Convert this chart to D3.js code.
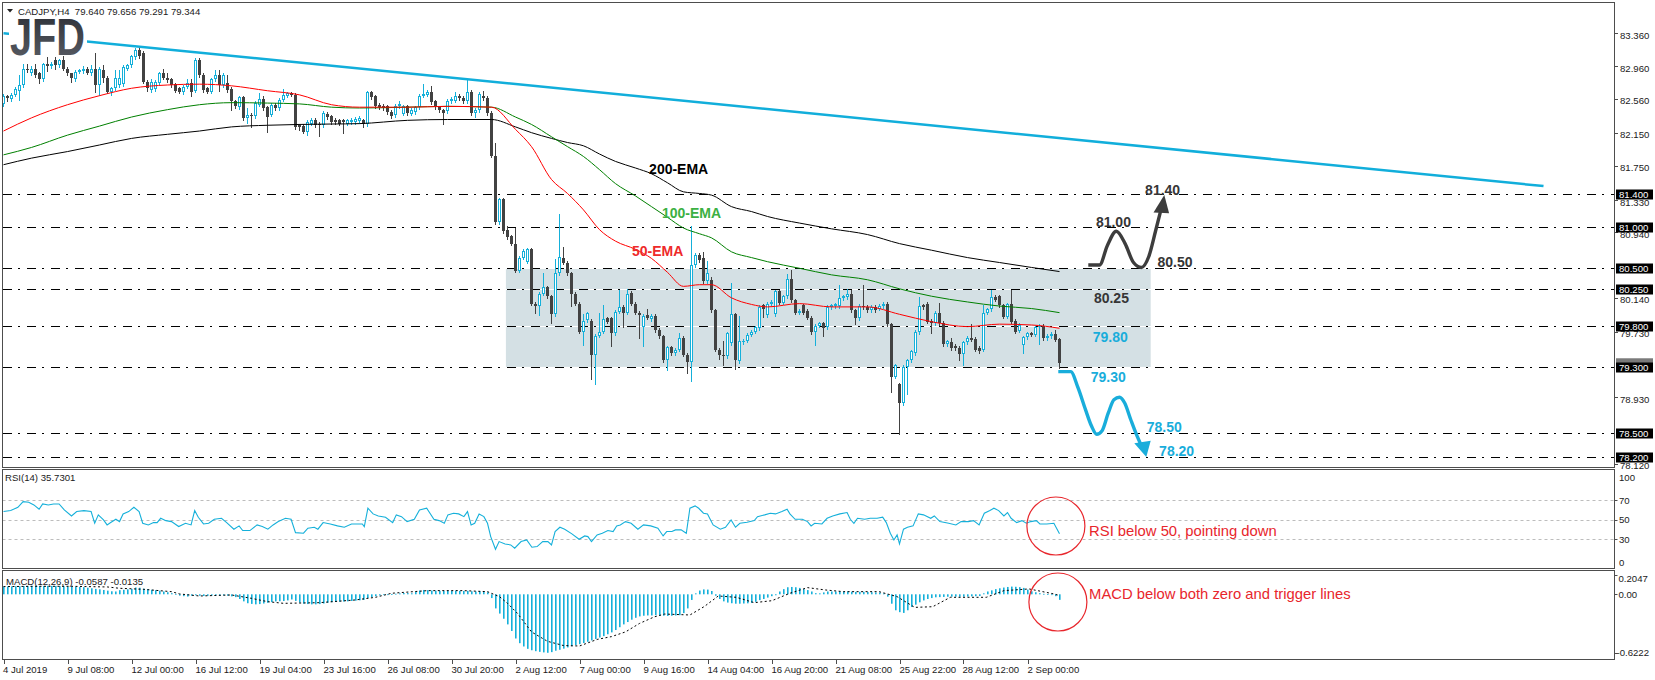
<!DOCTYPE html>
<html><head><meta charset="utf-8">
<script src="https://cdn.jsdelivr.net/npm/d3@7"></script>
<style>body{margin:0;background:#fff;}svg{display:block;}text{font-family:"Liberation Sans",Arial,sans-serif;}</style>
</head><body><svg id="c" width="1655" height="680"></svg>
<script>
// ---------------- DATA ----------------
const symbolTitle = "CADJPY,H4  79.640 79.656 79.291 79.344";
const opens = [82.50,82.60,82.56,82.61,82.66,82.73,82.93,82.87,82.93,82.87,
82.80,82.98,82.96,83.03,82.97,83.04,82.93,82.87,82.80,82.89,
82.90,82.93,82.87,82.93,82.73,82.91,82.82,82.65,82.69,82.73,
82.74,82.93,82.97,83.07,83.16,83.12,82.77,82.67,82.68,82.76,
82.88,82.82,82.80,82.74,82.69,82.64,82.71,82.76,82.66,83.04,
82.85,82.69,82.65,82.80,82.85,82.73,82.75,82.68,82.53,82.46,
82.58,82.33,82.37,82.35,82.49,82.56,82.46,82.37,82.49,82.45,
82.55,82.60,82.63,82.61,82.24,82.23,82.16,82.26,82.31,82.26,
82.24,82.38,82.35,82.31,82.30,82.30,82.26,82.28,82.28,82.29,
82.30,82.26,82.64,82.59,82.49,82.48,82.47,82.40,82.36,82.47,
82.38,82.47,82.38,82.40,82.46,82.60,82.61,82.65,82.53,82.46,
82.42,82.41,82.53,82.54,82.60,82.57,82.53,82.65,82.39,82.42,
82.60,82.57,82.39,81.87,81.06,81.34,80.96,80.89,80.80,80.47,
80.63,80.58,80.73,80.07,80.04,80.19,80.27,80.16,79.94,80.44,
80.63,80.57,80.44,80.19,80.07,79.73,79.87,79.86,79.45,79.68,
79.73,79.89,79.89,79.71,79.97,80.03,79.96,80.20,80.07,79.96,
79.78,79.93,79.88,79.92,79.75,79.67,79.38,79.54,79.47,79.51,
79.65,79.45,79.36,80.54,80.66,80.62,80.34,80.36,79.99,79.51,
79.45,79.43,79.59,79.94,79.37,79.60,79.62,79.69,79.73,79.77,
80.05,79.93,80.07,79.94,80.22,80.08,80.16,80.37,80.11,79.96,
80.05,79.98,79.90,79.72,79.80,79.83,79.78,80.03,80.04,80.04,
80.14,80.15,80.19,79.99,79.89,80.04,80.03,79.99,80.03,80.01,
80.04,80.07,79.82,79.18,79.09,78.86,79.30,79.38,79.47,79.72,
80.05,80.07,79.86,79.83,79.96,79.84,79.58,79.60,79.56,79.53,
79.46,79.60,79.65,79.64,79.53,79.51,79.96,80.00,80.15,80.16,
80.05,79.91,80.06,79.86,79.74,79.57,79.66,79.71,79.69,79.78,
79.80,79.65,79.67,79.70,79.640];
const highs = [82.62,82.61,82.63,82.70,82.85,82.99,82.99,82.96,82.98,82.89,
83.00,83.07,83.01,83.07,83.05,83.08,82.95,82.88,82.91,82.93,
82.96,82.95,82.97,83.12,82.95,82.97,82.84,82.71,82.91,82.91,
82.97,82.99,83.10,83.18,83.20,83.14,82.79,82.80,82.79,82.89,
82.93,82.87,82.82,82.76,82.71,82.73,82.80,82.80,83.06,83.06,
82.87,82.71,82.82,82.91,82.91,82.87,82.85,82.70,82.55,82.60,
82.60,82.45,82.39,82.53,82.63,82.60,82.48,82.51,82.51,82.57,
82.68,82.65,82.65,82.63,82.26,82.25,82.30,82.33,82.33,82.28,
82.41,82.40,82.37,82.33,82.32,82.32,82.32,82.33,82.34,82.35,
82.32,82.66,82.66,82.61,82.51,82.50,82.49,82.42,82.50,82.53,
82.49,82.49,82.45,82.48,82.62,82.74,82.67,82.72,82.55,82.48,
82.44,82.56,82.58,82.65,82.62,82.59,82.79,82.67,82.45,82.64,
82.66,82.59,82.41,82.03,81.36,81.36,81.01,80.91,80.99,80.65,
80.73,80.75,80.75,80.09,80.21,80.44,80.29,80.18,80.61,81.16,
80.76,80.59,80.46,80.21,80.09,79.94,79.97,79.88,79.70,79.96,
80.05,79.91,79.91,79.99,80.23,80.05,80.25,80.22,80.09,79.98,
79.94,80.00,79.94,79.94,79.77,79.69,79.56,79.56,79.53,79.71,
79.67,79.47,81.01,80.68,80.69,80.70,80.59,80.39,80.01,79.53,
79.61,79.73,80.32,79.96,79.92,79.64,79.71,79.75,79.80,80.05,
80.07,80.09,80.11,80.24,80.24,80.18,80.43,80.48,80.13,80.00,
80.07,80.00,79.92,79.82,79.85,79.85,80.05,80.07,80.08,80.30,
80.18,80.25,80.24,80.01,80.06,80.30,80.05,80.05,80.05,80.06,
80.09,80.09,79.84,79.34,79.11,79.32,79.40,79.51,79.75,80.15,
80.07,80.09,79.88,79.98,80.08,79.86,79.63,79.65,79.58,79.55,
79.62,79.67,79.82,79.66,79.55,80.05,80.02,80.23,80.17,80.18,
80.07,80.08,80.23,79.88,79.83,79.68,79.73,79.73,79.80,79.82,
79.82,79.70,79.72,79.75,79.656];
const lows = [82.47,82.53,82.54,82.60,82.55,82.71,82.89,82.85,82.83,82.76,
82.78,82.90,82.94,82.93,82.95,82.91,82.85,82.77,82.78,82.87,
82.88,82.86,82.85,82.65,82.61,82.77,82.63,82.61,82.67,82.71,
82.72,82.91,82.95,83.05,83.06,82.75,82.66,82.65,82.66,82.74,
82.80,82.77,82.71,82.64,82.63,82.62,82.69,82.60,82.64,82.83,
82.65,82.63,82.63,82.78,82.66,82.71,82.65,82.42,82.45,82.44,
82.31,82.27,82.22,82.33,82.47,82.43,82.16,82.35,82.43,82.43,
82.53,82.58,82.59,82.20,82.18,82.14,82.12,82.24,82.22,82.11,
82.22,82.32,82.26,82.26,82.24,82.14,82.24,82.26,82.26,82.27,
82.22,82.23,82.56,82.45,82.44,82.43,82.38,82.33,82.34,82.45,
82.36,82.37,82.36,82.38,82.44,82.58,82.59,82.50,82.44,82.40,
82.26,82.39,82.51,82.52,82.55,82.51,82.51,82.37,82.34,82.40,
82.55,82.37,81.85,81.04,81.04,80.93,80.86,80.78,80.45,80.45,
80.61,80.56,80.05,79.95,79.93,80.17,80.14,79.83,79.92,80.42,
80.55,80.42,80.04,80.05,79.71,79.57,79.85,79.15,79.09,79.66,
79.71,79.83,79.55,79.69,79.95,79.79,79.94,80.05,79.94,79.65,
79.55,79.88,79.86,79.73,79.65,79.36,79.26,79.45,79.45,79.49,
79.43,79.22,79.13,80.52,80.58,80.32,80.32,79.97,79.49,79.40,
79.32,79.41,79.57,79.28,79.35,79.58,79.60,79.67,79.71,79.75,
79.91,79.91,80.05,79.92,80.06,80.06,80.14,80.09,79.94,79.94,
79.94,79.88,79.70,79.57,79.78,79.68,79.76,80.01,80.02,80.02,
80.12,80.13,79.97,79.82,79.87,80.01,79.97,79.97,79.97,79.99,
80.02,79.80,78.99,79.16,78.48,78.84,78.97,79.36,79.45,79.70,
80.01,79.83,79.71,79.81,79.81,79.56,79.56,79.51,79.51,79.38,
79.32,79.58,79.61,79.49,79.47,79.49,79.94,79.98,80.10,80.03,
79.89,79.89,79.83,79.71,79.72,79.47,79.64,79.67,79.67,79.58,
79.63,79.63,79.65,79.61,79.291];
const closes = [82.60,82.57,82.61,82.68,82.73,82.93,82.91,82.93,82.85,82.80,
82.98,82.96,82.99,82.97,83.03,82.93,82.87,82.81,82.89,82.91,
82.93,82.88,82.93,82.73,82.93,82.82,82.65,82.69,82.82,82.82,
82.95,82.97,83.08,83.16,83.08,82.77,82.69,82.77,82.77,82.87,
82.82,82.79,82.73,82.66,82.65,82.71,82.76,82.65,83.04,82.85,
82.67,82.65,82.80,82.85,82.73,82.85,82.67,82.53,82.47,82.58,
82.33,82.37,82.36,82.51,82.56,82.45,82.34,82.49,82.45,82.55,
82.61,82.63,82.61,82.22,82.22,82.16,82.28,82.31,82.24,82.24,
82.39,82.34,82.28,82.28,82.26,82.28,82.30,82.31,82.32,82.33,
82.26,82.64,82.58,82.47,82.46,82.45,82.40,82.35,82.47,82.50,
82.47,82.39,82.43,82.46,82.60,82.62,82.65,82.52,82.46,82.42,
82.39,82.54,82.56,82.60,82.57,82.53,82.65,82.39,82.43,82.62,
82.57,82.39,81.87,81.06,81.34,80.95,80.88,80.80,80.47,80.63,
80.71,80.73,80.07,80.04,80.19,80.27,80.16,79.94,80.44,80.64,
80.57,80.44,80.19,80.07,79.73,79.86,79.95,79.45,79.68,79.73,
79.88,79.85,79.71,79.97,80.03,79.96,80.19,80.07,79.96,79.93,
79.92,79.90,79.92,79.75,79.67,79.38,79.54,79.47,79.51,79.65,
79.45,79.36,80.54,80.66,80.60,80.34,80.44,79.99,79.51,79.45,
79.43,79.71,79.94,79.38,79.61,79.62,79.69,79.73,79.78,80.03,
80.01,80.07,80.09,80.22,80.08,80.16,80.37,80.11,79.96,79.98,
79.96,79.90,79.72,79.80,79.83,79.77,80.03,80.05,80.06,80.14,
80.16,80.19,79.99,79.89,80.04,80.03,79.99,80.03,79.99,80.04,
80.07,79.82,79.18,79.32,78.86,79.30,79.38,79.49,79.73,80.04,
80.03,79.85,79.83,79.96,79.83,79.58,79.61,79.53,79.53,79.46,
79.60,79.65,79.63,79.51,79.49,79.96,80.00,80.15,80.12,80.05,
79.91,80.06,79.85,79.73,79.81,79.66,79.71,79.69,79.78,79.80,
79.65,79.68,79.70,79.63,79.344];

const emaIdx = [0,7,16,24,32,41,49,57,66,74,82,89,101,111,122,128,132,137,141,145,149,153,158,162,166,170,174,177,182,187,191,199,207,216,224,232,241,249,257,264];
const ema200 = [81.76,81.84,81.92,82.00,82.08,82.13,82.17,82.22,82.24,82.25,82.255,82.26,82.30,82.31,82.31,82.22,82.15,82.08,82.03,81.99,81.89,81.80,81.72,81.65,81.54,81.43,81.41,81.39,81.25,81.19,81.13,81.05,80.98,80.91,80.80,80.72,80.63,80.57,80.51,80.46];
const ema100 = [81.88,81.97,82.12,82.23,82.34,82.43,82.49,82.515,82.51,82.50,82.46,82.45,82.46,82.47,82.46,82.34,82.25,82.10,81.98,81.86,81.70,81.53,81.38,81.25,81.12,80.99,80.92,80.87,80.70,80.63,80.58,80.50,80.42,80.36,80.25,80.16,80.09,80.04,80.01,79.96];
const ema50 = [82.17,82.33,82.49,82.60,82.69,82.73,82.74,82.72,82.66,82.61,82.49,82.46,82.46,82.47,82.46,82.19,81.98,81.58,81.41,81.21,80.97,80.83,80.73,80.62,80.45,80.28,80.30,80.30,80.14,80.06,80.03,80.07,80.03,80.03,79.94,79.85,79.79,79.82,79.81,79.77];

const trendIdx = [0, 385];
const trendVal = [83.36, 81.50];

const levels = [81.40, 81.00, 80.50, 80.25, 79.80, 79.30, 78.50, 78.20];
const priceTicks = [83.36,82.96,82.56,82.15,81.75,81.33,80.94,80.14,79.73,78.93,78.12];
const lastPrice = 79.344;

const timeTickIdx = [0,16,32,48,64,80,96,112,128,144,160,176,192,208,224,240,256];
const timeTickLabels = ["4 Jul 2019","9 Jul 08:00","12 Jul 00:00","16 Jul 12:00","19 Jul 04:00","23 Jul 16:00","26 Jul 08:00","30 Jul 20:00","2 Aug 12:00","7 Aug 00:00","9 Aug 16:00","14 Aug 04:00","16 Aug 20:00","21 Aug 08:00","25 Aug 22:00","28 Aug 12:00","2 Sep 00:00"];

const rsiIdx = [0,1.8,3.6,4.9,6.3,7.6,8.9,9.8,11.2,12.5,13.9,15.2,17,18.3,20.1,21.9,22.8,23.7,25,25.9,
26.8,28.1,29,29.9,31.3,32.6,33.9,34.8,36.2,37.5,38.4,39.3,40.6,42,43.8,45.5,46.9,47.8,48.7,50,
51.3,52.7,54.5,55.8,57.6,58.9,59.8,61.6,63.4,64.7,66.1,67.4,68.7,70.5,71.9,73,75,76.1,77.7,78.6,
79.9,81.7,83.5,85.2,87,89.7,90.2,91.1,92.4,93.7,95.5,97.3,98.2,99.5,100.9,102.7,104,105.8,107.6,108.9,
110.2,111.1,112.5,113.8,115.1,116,116.9,117.8,118.9,120.1,121,121.8,123,123.9,125.4,126.8,127.8,129.4,130.8,132.1,
133.4,134.8,136.1,137,137.9,139.1,
140.3,142.1,143.9,145.3,146.1,147,148.4,149.7,151.1,152.4,153.3,154.2,155.5,156.9,158.6,160,161.8,163.6,164.9,165.8,
167.1,168,169.4,170.7,171.6,172.9,173.8,175,176,177.4,179.2,180.5,181.9,183,184.1,185.9,187.7,188.5,190.3,191.7,
193,194.6,195.9,196.6,197.9,199.7,201,201.9,202.8,204.6,205.9,207.3,209.1,210.9,211.7,212.6,213.5,215.3,216.7,218.4,
219.8,220.7,221.7,222.6,223.4,224,225,226,227.4,228.7,230,231.8,232.7,234.1,236.3,238.1,239.4,241.2,242.5,243.9,
245.2,246.6,247.6,248.8,250.1,251,251.9,253.3,254.6,255.7,256.8,258.2,259.1,260.8,262.6,264];
const rsiVal = [58.4,59.4,62.8,68.6,67.9,65.2,60.8,66.2,65.2,66.2,66.2,60.1,53.9,58.4,59.4,58.4,46.4,55.0,49.8,44.7,
47.1,50.5,48.1,56.0,58.4,62.8,58.4,46.4,44.7,47.1,47.1,51.5,49.1,48.1,43.0,46.4,44.7,59.4,52.6,45.7,
46.4,50.5,51.5,47.1,40.3,43.7,38.9,38.9,44.7,43.0,40.3,44.7,48.1,51.5,50.5,36.8,36.2,41.3,42.3,40.3,
47.1,45.7,43.7,42.3,45.7,45.7,43.0,61.8,56.0,53.9,52.6,47.1,55.0,53.2,48.1,50.5,60.1,61.8,50.5,49.1,
46.4,55.0,56.7,56.0,53.2,58.4,44.7,46.4,56.0,53.2,46.4,32.7,19.7,27.6,25.2,24.2,20.8,27.6,29.3,21.8,
22.5,27.6,27.6,24.2,37.9,42.3,
40.3,35.5,30.0,33.4,32.7,27.6,34.4,36.2,38.9,37.9,43.7,44.7,48.1,46.4,40.3,44.7,43.7,41.3,33.4,37.9,
37.9,39.6,39.6,36.2,61.8,64.2,61.8,56.7,56.0,44.7,40.3,42.3,49.8,42.3,46.4,47.4,49.1,53.2,55.0,56.7,
56.0,58.4,60.8,56.0,50.5,50.5,48.1,43.7,46.4,45.7,51.5,53.9,56.0,57.4,50.5,46.4,51.5,50.5,51.5,51.5,
52.6,47.1,36.2,29.3,34.4,25.2,40.3,42.3,43.7,56.0,55.0,51.5,53.9,48.1,46.4,44.7,48.1,48.1,49.1,44.7,
56.7,59.4,61.8,59.4,53.9,57.4,51.5,47.1,49.1,46.4,48.1,49.1,45.7,45.7,46.4,35.7];
const rsiLevels = [70, 50, 30];
const rsiTickLabels = ["100","70","50","30","0"];
const rsiTickValues = [100,70,50,30,0];

const macdHist = [0.082,0.083,0.084,0.085,0.086,0.088,0.089,0.089,0.089,0.088,
0.089,0.090,0.089,0.088,0.088,0.086,0.084,0.082,0.080,0.078,
0.076,0.070,0.064,0.058,0.053,0.046,0.039,0.032,0.030,0.044,
0.048,0.053,0.058,0.072,0.070,0.060,0.055,0.048,0.044,0.038,
0.030,0.022,0.012,0.004,-0.014,-0.020,-0.024,-0.015,-0.010,-0.015,
-0.018,-0.016,-0.014,-0.012,-0.012,-0.011,-0.015,-0.022,-0.030,-0.050,
-0.075,-0.095,-0.102,-0.107,-0.104,-0.098,-0.090,-0.083,-0.076,-0.074,
-0.071,-0.065,-0.055,-0.070,-0.088,-0.100,-0.104,-0.107,-0.107,-0.104,
-0.098,-0.090,-0.084,-0.082,-0.079,-0.077,-0.075,-0.071,-0.068,-0.064,
-0.060,-0.040,-0.030,-0.020,-0.012,-0.005,-0.002,0.003,0.006,0.010,
0.014,0.013,0.011,0.025,0.040,0.046,0.044,0.040,0.038,0.037,
0.036,0.037,0.037,0.038,0.036,0.035,0.037,0.032,0.030,0.032,
0.030,0.022,-0.040,-0.150,-0.205,-0.260,-0.320,-0.390,-0.470,-0.520,
-0.555,-0.580,-0.595,-0.605,-0.612,-0.618,-0.622,-0.615,-0.600,-0.590,
-0.578,-0.565,-0.552,-0.540,-0.530,-0.518,-0.505,-0.490,-0.475,-0.460,
-0.445,-0.425,-0.405,-0.380,-0.350,-0.320,-0.295,-0.270,-0.250,-0.235,
-0.228,-0.225,-0.225,-0.222,-0.225,-0.228,-0.230,-0.228,-0.225,-0.222,
-0.200,-0.150,-0.060,0.010,0.040,0.052,0.050,0.035,-0.015,-0.050,
-0.075,-0.088,-0.095,-0.100,-0.100,-0.098,-0.096,-0.092,-0.080,-0.062,
-0.050,-0.035,-0.020,-0.010,0.030,0.055,0.075,0.078,0.075,0.068,
0.055,0.045,0.030,0.012,0.010,0.020,0.030,0.030,0.029,0.030,
0.031,0.030,0.028,0.025,0.026,0.026,0.024,0.022,0.020,0.018,
0.010,-0.025,-0.100,-0.170,-0.190,-0.198,-0.170,-0.135,-0.110,-0.085,
-0.065,-0.050,-0.040,-0.032,-0.030,-0.028,-0.026,-0.025,-0.025,-0.026,
-0.025,-0.024,-0.022,-0.020,-0.018,0.010,0.030,0.042,0.055,0.064,
0.072,0.078,0.082,0.080,0.076,0.068,0.050,0.032,0.022,0.012,
0.005,0.002,-0.004,-0.020,-0.059];
const sigIdx = [0,8,17,26,29,35,42,44,49,57,62,66,70,79,88,93,97,106,115,121,124,126,128.5,132,136,140,144,148.4,152,155.5,159,162.7,165.3,171.6,175.2,178.7,183.2,187.7,192.1,196.6,201,205.5,210,218.9,223.4,227.8,232.3,236.7,245.7,250.1,256.4,262.6,264];
const sigVal = [0.082,0.085,0.085,0.078,0.064,0.053,0.028,0.004,-0.018,-0.007,-0.043,-0.078,-0.096,-0.089,-0.060,-0.032,0.011,0.039,0.039,0.028,-0.025,-0.096,-0.203,-0.40,-0.50,-0.545,-0.55,-0.48,-0.45,-0.40,-0.31,-0.24,-0.21,-0.22,-0.13,-0.018,-0.032,-0.089,-0.068,0.011,0.071,0.046,0.028,0.028,-0.025,-0.139,-0.132,-0.032,-0.032,0.039,0.057,0.004,-0.0135];
const macdTickLabels = ["0.2047","0.00","-0.6222"];
const macdTickValues = [0.2047, 0, -0.6222];

// annotations (bar index, price)
const boxRange = {i0:125.6, i1:286.8, p0:79.30, p1:80.50};
const emaLabels = [
  {t:"200-EMA", i:161.4, p:81.647, c:"#000000"},
  {t:"100-EMA", i:164.6, p:81.112, c:"#3cb043"},
  {t:"50-EMA",  i:157.1, p:80.650, c:"#ee2a2a"}
];
const levelLabels = [
  {t:"81.40", i:285.4, p:81.392, c:"#363636"},
  {t:"81.00", i:273.1, p:81.006, c:"#363636"},
  {t:"80.50", i:288.5, p:80.512, c:"#363636"},
  {t:"80.25", i:272.6, p:80.082, c:"#363636"},
  {t:"79.80", i:272.3, p:79.607, c:"#19addb"},
  {t:"79.30", i:271.8, p:79.121, c:"#19addb"},
  {t:"78.50", i:285.8, p:78.512, c:"#19addb"},
  {t:"78.20", i:288.9, p:78.220, c:"#19addb"}
];
const upPath = [[271.2,80.54],[274.0,80.54],[276.0,80.78],[278.2,80.95],[280.4,80.80],[282.5,80.57],[284.5,80.51],[286.3,80.64],[288.0,80.95],[289.4,81.22]];
const upHead = [[290.2,81.39],[287.5,81.18],[291.4,81.17]];
const downPath = [[263.7,79.242],[266.8,79.242],[268.6,79.05],[270.5,78.78],[272.0,78.58],[273.3,78.48],[274.6,78.52],[276.2,78.74],[277.6,78.90],[279.0,78.93],[280.3,78.86],[281.8,78.66],[283.3,78.47],[284.3,78.36]];
const downHead = [[285.7,78.205],[282.7,78.37],[286.8,78.40]];
const rsiNote = {t:"RSI below 50, pointing down", i:271.4, v:33.3, ci:263.1, cv:43.6};
const macdNote = {t:"MACD below both zero and trigger lines", i:271.4, v:-0.045, ci:263.6, cv:-0.082};

// ---------------- LAYOUT ----------------
const bull = "#15b0da", bear = "#424242";
const svg = d3.select("#c");
const L = 2.5, R = 1614.5;
const mainTop = 2.5, mainBot = 467.5, rsiTop = 469.5, rsiBot = 568.5, macdTop = 570.5, macdBot = 659.5;

const x = d3.scaleLinear().domain([0, 400]).range([3.5, 1603.5]);
const y = d3.scaleLinear().domain([78.2, 81.4]).range([457.3, 194.3]);
const yR = d3.scaleLinear().domain([0, 100]).range([568.5, 471]);
const yM = d3.scaleLinear().domain([-0.6222, 0]).range([652.8, 594.3]);

const defs = svg.append("defs");
defs.append("clipPath").attr("id","cm").append("rect").attr("x",3).attr("y",3).attr("width",1611).attr("height",464);
defs.append("clipPath").attr("id","cr").append("rect").attr("x",3).attr("y",470).attr("width",1611).attr("height",98);
defs.append("clipPath").attr("id","cmd").append("rect").attr("x",3).attr("y",571).attr("width",1611).attr("height",88);
const grad = defs.append("linearGradient").attr("id","lg").attr("x1",0).attr("y1",0).attr("x2",0).attr("y2",1);
grad.append("stop").attr("offset","0").attr("stop-color","#2a2d34");
grad.append("stop").attr("offset","1").attr("stop-color","#5c6068");

svg.append("rect").attr("width",1655).attr("height",680).attr("fill","#fff");

// ---------- MAIN PANEL ----------
const gm = svg.append("g").attr("clip-path","url(#cm)");
gm.append("rect").attr("x",x(boxRange.i0)).attr("y",y(boxRange.p1))
  .attr("width",x(boxRange.i1)-x(boxRange.i0)).attr("height",y(boxRange.p0)-y(boxRange.p1))
  .attr("fill","#d4e0e4");

levels.forEach(v=>{
  const yy = Math.round(y(v))+0.5;
  gm.append("line").attr("x1",L).attr("x2",R).attr("y1",yy).attr("y2",yy).attr("stroke","#fff").attr("stroke-width",1);
  gm.append("line").attr("x1",L).attr("x2",R).attr("y1",yy).attr("y2",yy)
    .attr("stroke","#000").attr("stroke-width",1).attr("stroke-dasharray","9,6,2,7").attr("shape-rendering","crispEdges");
});

// candles
const candles = d3.range(opens.length).map(i=>({i, o:opens[i], h:highs[i], l:lows[i], c:closes[i]}));
const gc = gm.append("g").attr("shape-rendering","crispEdges");
candles.forEach(d=>{
  const cx = x(d.i);
  const col = d.c >= d.o ? bull : bear;
  gc.append("line").attr("x1",cx).attr("x2",cx).attr("y1",Math.round(y(d.h))).attr("y2",Math.round(y(d.l))+1).attr("stroke",col);
  const yt = Math.round(y(Math.max(d.o,d.c))), yb = Math.round(y(Math.min(d.o,d.c)));
  const hgt = Math.max(1, yb-yt);
  gc.append("rect").attr("x",cx-1.5).attr("y",yt).attr("width",3).attr("height",hgt).attr("fill",col);
  if (d.c >= d.o && hgt > 2) {
    gc.append("rect").attr("x",cx-0.5).attr("y",yt+1).attr("width",1).attr("height",hgt-2).attr("fill","#fff");
  }
});

// EMAs
const emaLine = d3.line().x(d=>x(d[0])).y(d=>y(d[1])).curve(d3.curveMonotoneX);
[[ema200,"#000000"],[ema100,"#008000"],[ema50,"#ff0000"]].forEach(([arr,col])=>{
  gm.append("path").datum(emaIdx.map((k,j)=>[k,arr[j]])).attr("d",emaLine)
    .attr("fill","none").attr("stroke",col).attr("stroke-width",1);
});

// trendline
gm.append("line").attr("x1",x(trendIdx[0])).attr("y1",y(trendVal[0])).attr("x2",x(trendIdx[1])).attr("y2",y(trendVal[1]))
  .attr("stroke","#11aedb").attr("stroke-width",2.5);

// logo
const logo = svg.append("g");
logo.append("rect").attr("x",9).attr("y",16).attr("width",78).attr("height",39).attr("fill","#fff");
logo.append("text").attr("x",10).attr("y",55).attr("font-family","Roboto").attr("font-weight",700).attr("font-size",52)
  .attr("fill","url(#lg)").attr("textLength",75).attr("lengthAdjust","spacingAndGlyphs").text("JFD");

// EMA labels
emaLabels.forEach(d=>{
  gm.append("text").attr("x",x(d.i)).attr("y",y(d.p)).attr("font-size",14).attr("font-weight",700)
    .attr("fill",d.c).text(d.t);
});
// level annotation labels
levelLabels.forEach(d=>{
  gm.append("text").attr("x",x(d.i)).attr("y",y(d.p)).attr("font-size",14).attr("font-weight",700)
    .attr("fill",d.c).text(d.t);
});
// scenario arrows
const arrowLine = d3.line().x(d=>x(d[0])).y(d=>y(d[1])).curve(d3.curveMonotoneX);
gm.append("path").datum(upPath).attr("d",arrowLine).attr("fill","none").attr("stroke","#3d3d3d").attr("stroke-width",3.4);
gm.append("polygon").attr("points",upHead.map(d=>[x(d[0]),y(d[1])].join(",")).join(" ")).attr("fill","#3d3d3d");
gm.append("path").datum(downPath).attr("d",arrowLine).attr("fill","none").attr("stroke","#19addb").attr("stroke-width",3.4);
gm.append("polygon").attr("points",downHead.map(d=>[x(d[0]),y(d[1])].join(",")).join(" ")).attr("fill","#19addb");

// header
svg.append("path").attr("d","M7,9 L13,9 L10,12.5 Z").attr("fill","#222");
svg.append("text").attr("x",18).attr("y",15).attr("font-size",9.6).attr("fill","#1a1a1a").attr("xml:space","preserve").text(symbolTitle);

// ---------- RSI PANEL ----------
const gr = svg.append("g").attr("clip-path","url(#cr)");
rsiLevels.forEach(v=>{
  const yy = Math.round(yR(v))+0.5;
  gr.append("line").attr("x1",L).attr("x2",R).attr("y1",yy).attr("y2",yy).attr("stroke","#bdbdbd").attr("stroke-dasharray","3,3");
});
gr.append("text").attr("x",5).attr("y",481).attr("font-size",9.6).attr("fill","#1a1a1a").text("RSI(14) 35.7301");
gr.append("path").datum(rsiIdx.map((k,j)=>[k,rsiVal[j]]))
  .attr("d",d3.line().x(d=>x(d[0])).y(d=>yR(d[1])))
  .attr("fill","none").attr("stroke","#15b0da").attr("stroke-width",1.1);

// ---------- MACD PANEL ----------
const gd = svg.append("g").attr("clip-path","url(#cmd)");
gd.append("text").attr("x",6).attr("y",585).attr("font-size",9.6).attr("fill","#1a1a1a").text("MACD(12,26,9) -0.0587 -0.0135");
macdHist.forEach((v,i)=>{
  const y0 = yM(0), y1 = yM(v);
  gd.append("rect").attr("x",x(i)-0.5).attr("y",Math.min(y0,y1)).attr("width",1.6).attr("height",Math.max(0.8,Math.abs(y1-y0))).attr("fill","#15b0da");
});
gd.append("path").datum(sigIdx.map((k,j)=>[k,sigVal[j]]))
  .attr("d",d3.line().x(d=>x(d[0])).y(d=>yM(d[1])))
  .attr("fill","none").attr("stroke","#000").attr("stroke-width",1).attr("stroke-dasharray","2,2.5");

// red notes
svg.append("circle").attr("cx",x(rsiNote.ci)).attr("cy",yR(rsiNote.cv)).attr("r",29).attr("fill","none").attr("stroke","#e8262c").attr("stroke-width",1.2);
svg.append("text").attr("x",x(rsiNote.i)).attr("y",yR(rsiNote.v)).attr("font-size",14.8).attr("fill","#e8262c").text(rsiNote.t);
svg.append("circle").attr("cx",x(macdNote.ci)).attr("cy",yM(macdNote.cv)).attr("r",29).attr("fill","none").attr("stroke","#e8262c").attr("stroke-width",1.2);
svg.append("text").attr("x",x(macdNote.i)).attr("y",yM(macdNote.v)).attr("font-size",14.8).attr("fill","#e8262c").text(macdNote.t);

// ---------- FRAMES ----------
const fr = svg.append("g").attr("fill","none").attr("stroke","#4d4d4d").attr("shape-rendering","crispEdges");
fr.append("rect").attr("x",L).attr("y",mainTop).attr("width",R-L).attr("height",mainBot-mainTop);
fr.append("rect").attr("x",L).attr("y",rsiTop).attr("width",R-L).attr("height",rsiBot-rsiTop);
fr.append("rect").attr("x",L).attr("y",macdTop).attr("width",R-L).attr("height",macdBot-macdTop);

// ---------- RIGHT AXES ----------
const ax = svg.append("g");
priceTicks.forEach(v=>{
  const yy = Math.round(y(v))+0.5;
  ax.append("line").attr("x1",R).attr("x2",R+3).attr("y1",yy).attr("y2",yy).attr("stroke","#4d4d4d").attr("shape-rendering","crispEdges");
  ax.append("text").attr("x",1620).attr("y",y(v)+5.5).attr("font-size",9.6).attr("fill","#1a1a1a").text(v.toFixed(3));
});
// last price marker (mostly hidden)
ax.append("rect").attr("x",1616).attr("y",y(lastPrice)-5).attr("width",37).attr("height",10).attr("fill","#7a7a7a");
levels.forEach(v=>{
  ax.append("rect").attr("x",1616).attr("y",Math.round(y(v))-4.5).attr("width",37).attr("height",10).attr("fill","#000");
  ax.append("text").attr("x",1619).attr("y",Math.round(y(v))+4).attr("font-size",9.6).attr("fill","#fff").text(v.toFixed(3));
});
rsiTickValues.forEach((v,j)=>{
  let yy = yR(v)+3.5;
  if (v===100) yy = yR(v)+10; if (v===0) yy = yR(v)-3;
  if (v!==100 && v!==0) ax.append("line").attr("x1",R).attr("x2",R+3).attr("y1",Math.round(yR(v))+0.5).attr("y2",Math.round(yR(v))+0.5).attr("stroke","#4d4d4d");
  ax.append("text").attr("x",1619).attr("y",yy).attr("font-size",9.6).attr("fill","#1a1a1a").text(rsiTickLabels[j]);
});
macdTickValues.forEach((v,j)=>{
  let yy = yM(v)+3.5;
  if (j===0) yy = 581.5;
  ax.append("line").attr("x1",R).attr("x2",R+3).attr("y1",Math.round(yM(v))+0.5).attr("y2",Math.round(yM(v))+0.5).attr("stroke","#4d4d4d");
  ax.append("text").attr("x",v<0?1616.5:1618.5).attr("y",yy).attr("font-size",9.6).attr("fill","#1a1a1a").text(macdTickLabels[j]);
});

// ---------- TIME AXIS ----------
timeTickIdx.forEach((k,j)=>{
  const xx = Math.round(x(k))+0.5;
  ax.append("line").attr("x1",xx).attr("x2",xx).attr("y1",macdBot).attr("y2",macdBot+4).attr("stroke","#4d4d4d").attr("shape-rendering","crispEdges");
  ax.append("text").attr("x",j===0?3:xx-1).attr("y",673).attr("font-size",9.6).attr("fill","#1a1a1a").text(timeTickLabels[j]);
});
</script></body></html>
